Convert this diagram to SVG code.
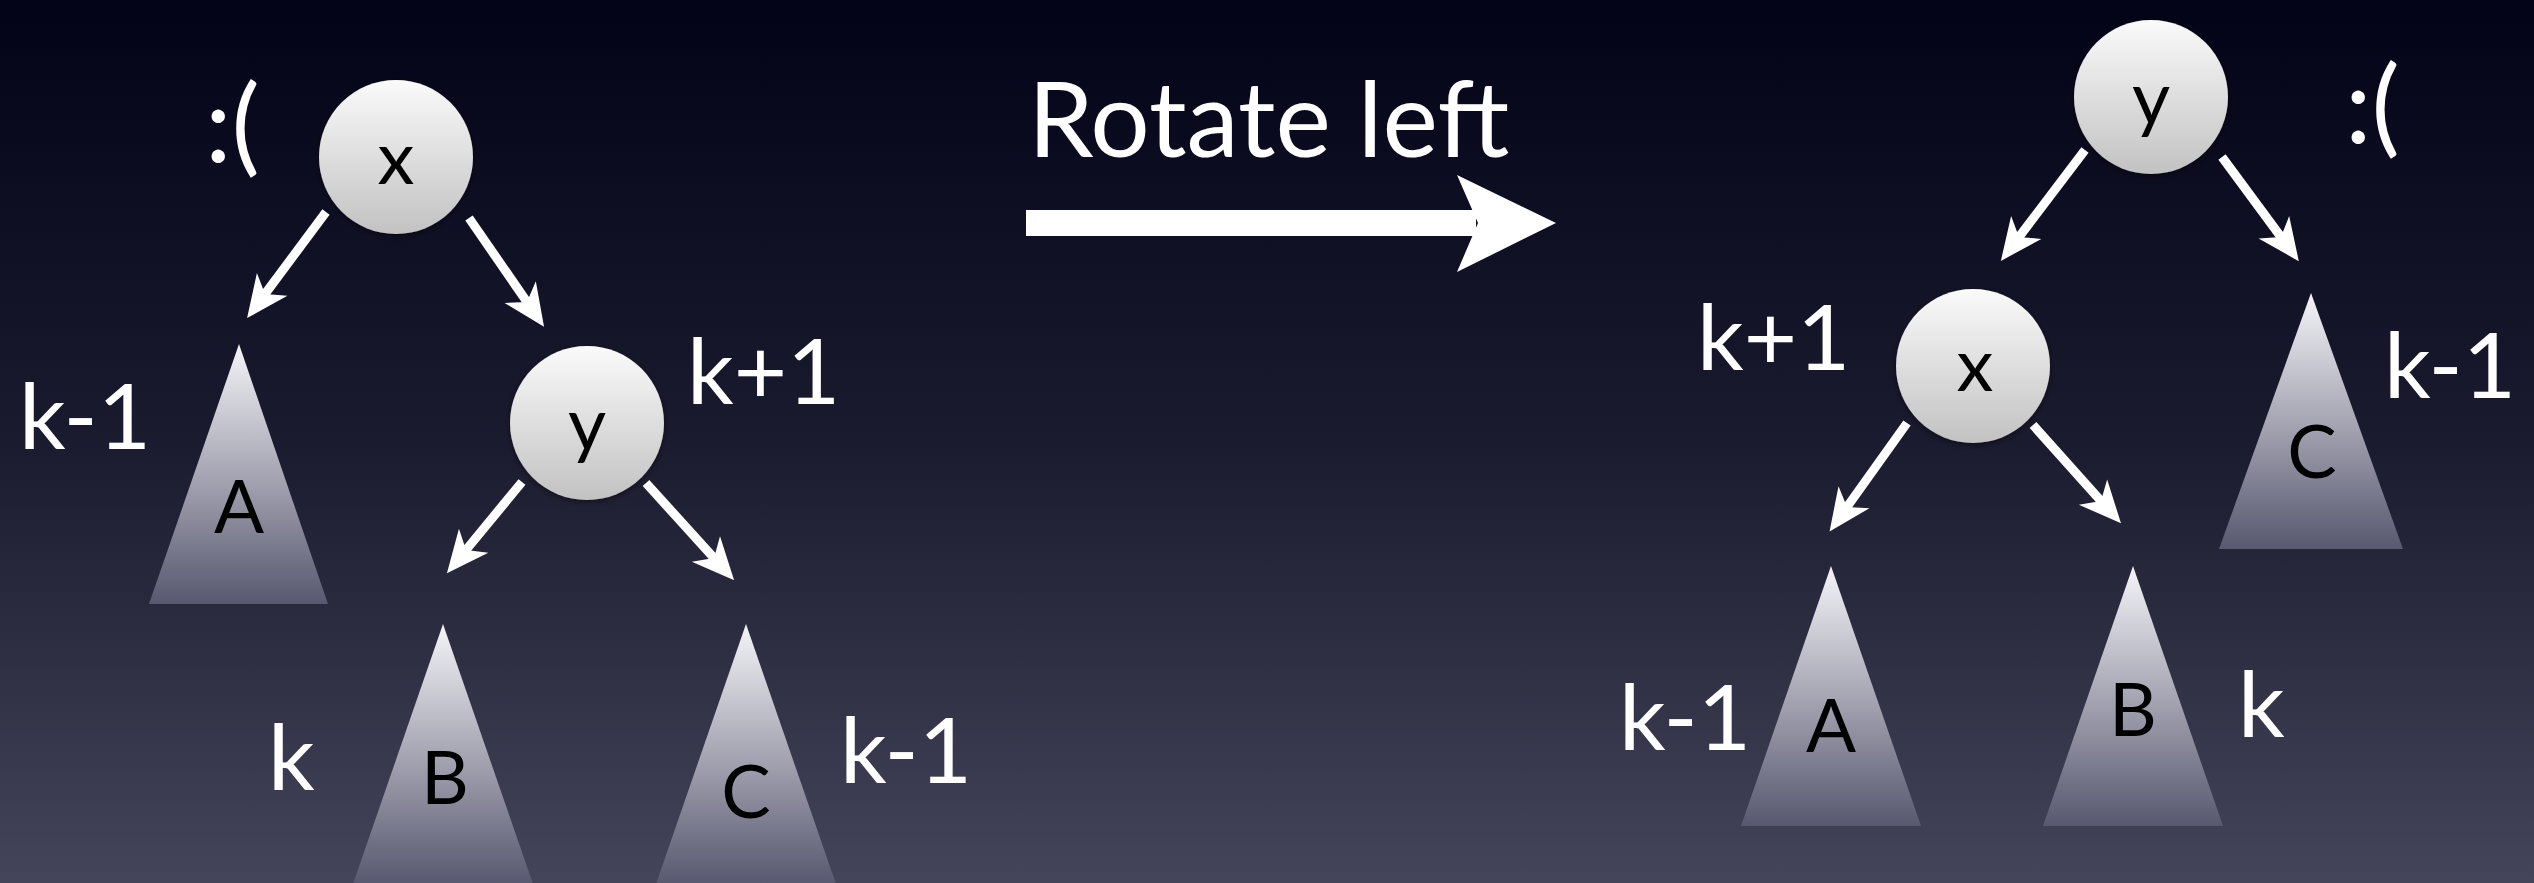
<svg xmlns="http://www.w3.org/2000/svg" width="2534" height="883" viewBox="0 0 2534 883">
<defs>
<linearGradient id="bg" x1="0" y1="0" x2="0" y2="1">
<stop offset="0" stop-color="#030317"/>
<stop offset="0.5" stop-color="#1b1b2f"/>
<stop offset="1" stop-color="#44445a"/>
</linearGradient>
<linearGradient id="ball" x1="0" y1="0" x2="0" y2="1">
<stop offset="0" stop-color="#fafafa"/>
<stop offset="1" stop-color="#c2c2c2"/>
</linearGradient>
<linearGradient id="tri" x1="0" y1="0" x2="0" y2="1">
<stop offset="0" stop-color="#f4f4f8"/>
<stop offset="1" stop-color="#585870"/>
</linearGradient>
<filter id="sh" x="-20%" y="-20%" width="140%" height="140%">
<feGaussianBlur in="SourceAlpha" stdDeviation="3"/>
<feOffset dx="0" dy="2" result="b"/>
<feComponentTransfer><feFuncA type="linear" slope="0.5"/></feComponentTransfer>
<feMerge><feMergeNode/><feMergeNode in="SourceGraphic"/></feMerge>
</filter>
<marker id="ah" viewBox="-44 -22 46 44" refX="-30" refY="0" markerWidth="46" markerHeight="44" markerUnits="userSpaceOnUse" orient="auto">
<path d="M0,0 L-42,-19 L-30,0 L-42,19 Z" fill="#ffffff"/>
</marker>
</defs>
<style>
.lbl{font-family:"Lato","Open Sans","Liberation Sans",sans-serif;fill:#ffffff;}
.big{font-size:92px;}
.sad{font-size:106px;}
.node{font-family:"Lato","Open Sans","Liberation Sans",sans-serif;fill:#000000;font-size:74px;text-anchor:middle;}
.sub{font-family:"Lato","Open Sans","Liberation Sans",sans-serif;fill:#000000;font-size:74px;text-anchor:middle;}
.edge{stroke:#ffffff;stroke-width:9;fill:none;marker-end:url(#ah);}
.circ{fill:url(#ball);filter:url(#sh);}
.tr{fill:url(#tri);}
</style>
<rect x="0" y="0" width="2534" height="883" fill="url(#bg)"/>

<g id="connectors">
<line class="edge" x1="326" y1="212" x2="265" y2="294"/>
<line class="edge" x1="469" y1="218" x2="527" y2="302"/>
<line class="edge" x1="522" y1="482" x2="466" y2="550"/>
<line class="edge" x1="646" y1="483" x2="714" y2="558"/>
<line class="edge" x1="2085" y1="150" x2="2019" y2="237"/>
<line class="edge" x1="2222" y1="157" x2="2281" y2="237"/>
<line class="edge" x1="1907" y1="423" x2="1847" y2="507"/>
<line class="edge" x1="2033" y1="425" x2="2101" y2="501"/>
</g>

<g id="rotate-arrow">
<rect x="1026" y="210" width="450" height="26" fill="#ffffff"/>
<path d="M1457,175 L1556,223 L1457,272 L1478,223 Z" fill="#ffffff"/>
<text class="lbl" x="1028" y="157" font-size="105">Rotate left</text>
</g>

<!-- Left tree -->
<g id="L-x">
<circle class="circ" cx="396" cy="157" r="77"/>
<text class="node" x="396" y="184">x</text>
</g>
<text class="lbl sad" x="205" y="162">:(</text>
<g id="L-y">
<circle class="circ" cx="587" cy="423" r="77"/>
<text class="node" x="587" y="450">y</text>
</g>
<text class="lbl big" x="687" y="404">k+1</text>
<g id="L-A">
<polygon class="tr" points="239,344 328,604 149,604"/>
<text class="sub" x="239" y="533">A</text>
</g>
<text class="lbl big" x="19" y="449">k-1</text>
<g id="L-B">
<polygon class="tr" points="443,624 533,884 353,884"/>
<text class="sub" x="445" y="804">B</text>
</g>
<text class="lbl big" x="268" y="790">k</text>
<g id="L-C">
<polygon class="tr" points="746,624 836,884 656,884"/>
<text class="sub" x="746" y="818">C</text>
</g>
<text class="lbl big" x="840" y="783">k-1</text>

<!-- Right tree -->
<g id="R-y">
<circle class="circ" cx="2151" cy="97" r="77"/>
<text class="node" x="2151" y="124">y</text>
</g>
<text class="lbl sad" x="2345" y="143">:(</text>
<g id="R-x">
<circle class="circ" cx="1973" cy="366" r="77"/>
<text class="node" x="1975" y="391">x</text>
</g>
<text class="lbl big" x="1697" y="370">k+1</text>
<g id="R-C">
<polygon class="tr" points="2311,293 2403,549 2219,549"/>
<text class="sub" x="2312" y="478">C</text>
</g>
<text class="lbl big" x="2384" y="398">k-1</text>
<g id="R-A">
<polygon class="tr" points="1831,566 1921,826 1741,826"/>
<text class="sub" x="1831" y="752">A</text>
</g>
<text class="lbl big" x="1619" y="750">k-1</text>
<g id="R-B">
<polygon class="tr" points="2133,566 2223,826 2043,826"/>
<text class="sub" x="2133" y="736">B</text>
</g>
<text class="lbl big" x="2238" y="737">k</text>
</svg>
